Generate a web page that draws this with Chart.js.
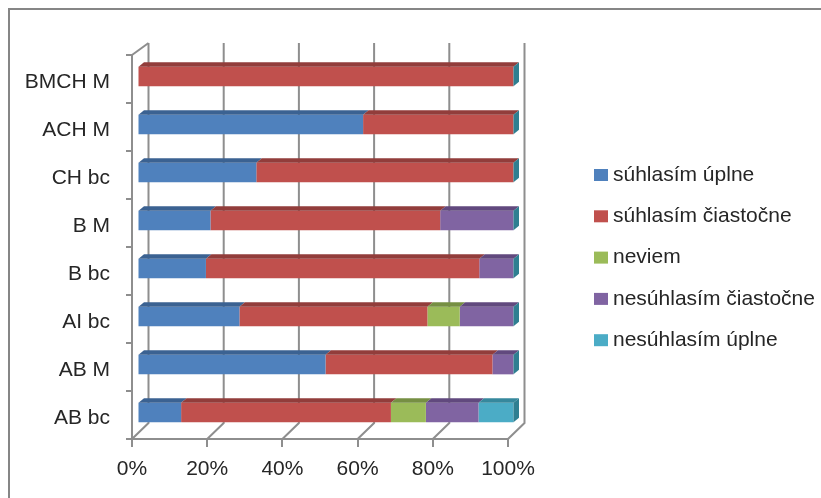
<!DOCTYPE html>
<html>
<head>
<meta charset="utf-8">
<script src="https://cdn.jsdelivr.net/npm/chart.js@4.4.0/dist/chart.umd.min.js"></script>
<style>
  html, body { margin: 0; padding: 0; background: #ffffff; }
  #wrap { width: 821px; height: 498px; position: relative; }
  canvas { display: block; }
</style>
</head>
<body>
<div id="wrap"><canvas id="c" width="821" height="498"></canvas></div>
<script>
// ---- data (bottom-to-top order as in the source chart) ----
const categories = ['AB bc', 'AB M', 'AI bc', 'B bc', 'B M', 'CH bc', 'ACH M', 'BMCH M'];
const seriesNames = ['súhlasím úplne', 'súhlasím čiastočne', 'neviem', 'nesúhlasím čiastočne', 'nesúhlasím úplne'];
const suhlasimUplne       = [11.6, 50.0, 27.1, 18.2, 19.4, 31.6, 60.0, 0];
const suhlasimCiastocne   = [55.8, 44.4, 50.0, 72.7, 61.1, 68.4, 40.0, 100];
const neviem              = [9.3, 0, 8.6, 0, 0, 0, 0, 0];
const nesuhlasimCiastocne = [14.0, 5.6, 14.3, 9.1, 19.5, 0, 0, 0];
const nesuhlasimUplne     = [9.3, 0, 0, 0, 0, 0, 0, 0];
const xTickValues = [0, 20, 40, 60, 80, 100];

// ---- styles ----
const frontColors = ['#4F81BD', '#C0504D', '#9BBB59', '#8064A2', '#4BACC6'];
const topColors   = ['#3B6292', '#923D3B', '#768F43', '#61497E', '#36889D'];
const sideColor   = '#2F7F91';
const FONT = '"Liberation Sans", Arial, sans-serif';
const TEXT = '#262626';
const GRID = '#8E8E8E';

const BAR_SHIFT_X = 5.5, BAR_SHIFT_Y = -2.5;   // bars sit a little inside the box
const BAR_DEPTH_X = 5.5, BAR_DEPTH_Y = -4.5;   // bar thickness in depth
const WALL_DX = 16.5, WALL_DY_BOTTOM = -16, WALL_DY_TOP = -12;

const seriesValues = [suhlasimUplne, suhlasimCiastocne, neviem, nesuhlasimCiastocne, nesuhlasimUplne];

const frame = {
  id: 'frame',
  beforeDraw(chart) {
    const ctx = chart.ctx;
    ctx.save();
    ctx.fillStyle = '#ffffff';
    ctx.fillRect(0, 0, chart.width, chart.height);
    ctx.strokeStyle = '#868686';
    ctx.lineWidth = 2;
    ctx.strokeRect(9, 9, 1000, 1000);
    ctx.restore();
  }
};

const walls = {
  id: 'walls',
  beforeDatasetsDraw(chart) {
    const ctx = chart.ctx, a = chart.chartArea, xs = chart.scales.x;
    ctx.save();
    ctx.strokeStyle = GRID;
    ctx.lineWidth = 2;
    xTickValues.forEach(v => {
      const xf = xs.getPixelForValue(v);
      ctx.beginPath();
      ctx.moveTo(xf, a.bottom);
      ctx.lineTo(xf + WALL_DX, a.bottom + WALL_DY_BOTTOM);
      ctx.lineTo(xf + WALL_DX, a.top + WALL_DY_TOP);
      ctx.stroke();
    });
    // left wall top edge
    ctx.beginPath();
    ctx.moveTo(a.left, a.top);
    ctx.lineTo(a.left + WALL_DX, a.top + WALL_DY_TOP);
    ctx.stroke();
    ctx.restore();
    // shift bars into the box
    ctx.save();
    ctx.translate(BAR_SHIFT_X, BAR_SHIFT_Y);
  },
  afterDatasetsDraw(chart) {
    const ctx = chart.ctx;
    const n = chart.data.datasets.length;
    for (let d = 0; d < n; d++) {
      const meta = chart.getDatasetMeta(d);
      meta.data.forEach(el => {
        const p = el.getProps(['x', 'y', 'base', 'height'], true);
        const l = Math.min(p.x, p.base), r = Math.max(p.x, p.base);
        const top = p.y - p.height / 2, bot = p.y + p.height / 2;
        if (r - l > 0.01) {
          ctx.fillStyle = topColors[d];
          ctx.beginPath();
          ctx.moveTo(l, top);
          ctx.lineTo(r, top);
          ctx.lineTo(r + BAR_DEPTH_X, top + BAR_DEPTH_Y);
          ctx.lineTo(l + BAR_DEPTH_X, top + BAR_DEPTH_Y);
          ctx.closePath();
          ctx.fill();
        }
        if (d === n - 1) {
          ctx.fillStyle = sideColor;
          ctx.beginPath();
          ctx.moveTo(r, top);
          ctx.lineTo(r + BAR_DEPTH_X, top + BAR_DEPTH_Y);
          ctx.lineTo(r + BAR_DEPTH_X, bot + BAR_DEPTH_Y);
          ctx.lineTo(r, bot);
          ctx.closePath();
          ctx.fill();
        }
      });
    }
    ctx.restore();
  }
};

const sideLegend = {
  id: 'sideLegend',
  afterDraw(chart) {
    const ctx = chart.ctx;
    ctx.save();
    ctx.font = '21px ' + FONT;
    ctx.textBaseline = 'middle';
    ctx.textAlign = 'left';
    chart.data.datasets.forEach((ds, i) => {
      const cy = 175 + i * 41.3;
      ctx.fillStyle = ds.backgroundColor;
      ctx.fillRect(594, cy - 6, 14, 12);
      ctx.fillStyle = TEXT;
      ctx.fillText(ds.label, 613, cy);
    });
    ctx.restore();
  }
};

new Chart(document.getElementById('c'), {
  type: 'bar',
  data: {
    labels: categories,
    datasets: seriesNames.map((name, i) => ({
      label: name,
      data: seriesValues[i],
      backgroundColor: frontColors[i],
      borderWidth: 0,
      clip: false
    }))
  },
  options: {
    indexAxis: 'y',
    responsive: false,
    animation: false,
    devicePixelRatio: 1,
    layout: { padding: { left: 0, top: 55, right: 313, bottom: 19 } },
    barPercentage: 0.41,
    categoryPercentage: 1.0,
    plugins: { legend: { display: false }, tooltip: { enabled: false } },
    scales: {
      x: {
        stacked: true,
        min: 0, max: 100,
        afterFit(s) { s.height = 40; },
        afterBuildTicks(s) { s.ticks = xTickValues.map(v => ({ value: v })); },
        ticks: {
          callback: v => v + '%',
          font: { size: 21, family: FONT },
          color: TEXT,
          padding: 10,
          maxRotation: 0
        },
        grid: { drawOnChartArea: false, drawTicks: true, tickLength: 8, color: GRID, lineWidth: 2 },
        border: { display: true, color: GRID, width: 2 }
      },
      y: {
        stacked: true,
        reverse: true,
        afterFit(s) { s.width = 132; },
        ticks: {
          font: { size: 21, family: FONT },
          color: TEXT,
          padding: 16,
          labelOffset: 3
        },
        grid: { drawOnChartArea: false, drawTicks: true, tickLength: 6, color: GRID, lineWidth: 2, offset: true },
        border: { display: true, color: GRID, width: 2 }
      }
    }
  },
  plugins: [frame, walls, sideLegend]
});
</script>
</body>
</html>
